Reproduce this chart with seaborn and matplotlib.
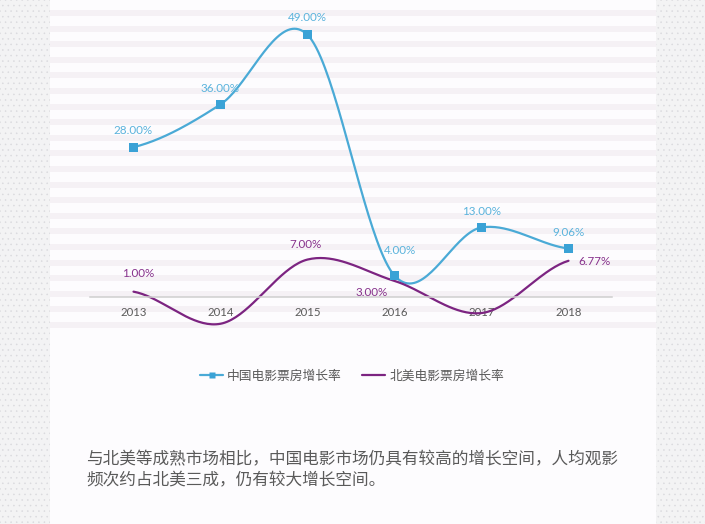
import numpy as np
import pandas as pd
import matplotlib
matplotlib.use("Agg")
import matplotlib.pyplot as plt
import seaborn as sns
from matplotlib.patches import Rectangle
from matplotlib.lines import Line2D

years = ["2013", "2014", "2015", "2016", "2017", "2018"]
china_growth = [28.00, 36.00, 49.00, 4.00, 13.00, 9.06]
na_growth = [1.00, -5.00, 7.00, 3.00, -3.00, 6.77]
china_name = "中国电影票房增长率"
na_name = "北美电影票房增长率"
note = ("与北美等成熟市场相比，中国电影市场仍具有较高的增长空间，人均观影\n"
        "频次约占北美三成，仍有较大增长空间。")

# label offsets in pixels (dx, dy up)
china_off = [(0, 17), (0, 16), (0, 17), (5, 25), (0, 16), (0, 16)]
na_off = [(5, 18), (-4, 21), (-2, 15), (-23, -12), (-3, 9), (26, -1)]

CHINA = "#4aaad6"
CHINA_TXT = "#5ab3dc"
NA = "#7c2481"
NA_TXT = "#87328c"
GREY_TXT = "#5a5a5a"

sns.set_style("white")
plt.rcParams["font.family"] = ["Lato", "Noto Sans CJK SC", "DejaVu Sans"]
plt.rcParams["hatch.linewidth"] = 0.35
CJK = ["Noto Sans CJK SC", "DejaVu Sans"]


def smooth(y, n=40):
    # catmull-rom style curve through the points (like office "smoothed line")
    y = np.asarray(y, dtype=float)
    x = np.arange(len(y), dtype=float)
    m = np.empty_like(y)
    m[1:-1] = (y[2:] - y[:-2]) / 2
    m[0] = (y[1] - y[0]) / 2
    m[-1] = (y[-1] - y[-2]) / 2
    xs, ys = [], []
    for i in range(len(y) - 1):
        t = np.linspace(0, 1, n, endpoint=(i == len(y) - 2))
        h00 = 2 * t**3 - 3 * t**2 + 1
        h10 = t**3 - 2 * t**2 + t
        h01 = -2 * t**3 + 3 * t**2
        h11 = t**3 - t**2
        xs.append(x[i] + t)
        ys.append(h00 * y[i] + h10 * m[i] + h01 * y[i + 1] + h11 * m[i + 1])
    return np.concatenate(xs), np.concatenate(ys)


fig = plt.figure(figsize=(7.05, 5.24), dpi=100)
fig.patch.set_facecolor("#fdfcfe")

# background: speckled side bands + striped panel
bg = fig.add_axes([0, 0, 1, 1])
bg.set_xlim(0, 705)
bg.set_ylim(524, 0)
bg.axis("off")
for x0, w in [(0, 50), (656, 49)]:
    bg.add_patch(Rectangle((x0, 0), w, 524, facecolor="#f3f3f4",
                           edgecolor="#d9d9dd", hatch="...", linewidth=0))
bg.add_patch(Rectangle((50, 0), 606, 524, facecolor="#fdfcfe", linewidth=0))
for k in range(21):
    y0 = 10 + 15.6 * k
    bg.add_patch(Rectangle((50, y0), 606, 6, facecolor="#f5f1f5", linewidth=0))

# main chart
ppv = 5.35  # pixels per percentage point
ax = fig.add_axes([90 / 705, (524 - 297) / 524, 522 / 705, 297 / 524])
ax.patch.set_alpha(0)
ax.set_xlim(-0.5, 5.5)
ax.set_ylim(0, 297 / ppv)

cx, cy = smooth(china_growth)
nx, ny = smooth(na_growth)
curves = pd.DataFrame({"x": np.concatenate([cx, nx]),
                       "y": np.concatenate([cy, ny]),
                       "s": [china_name] * len(cx) + [na_name] * len(nx)})
sns.lineplot(data=curves, x="x", y="y", hue="s", palette=[CHINA, NA],
             linewidth=1.6, sort=False, estimator=None, legend=False,
             ax=ax, clip_on=False)
pts = pd.DataFrame({"x": range(len(years)), "y": china_growth})
sns.scatterplot(data=pts, x="x", y="y", marker="s", s=42, color="#3aa2d6",
                edgecolor="none", ax=ax, clip_on=False, zorder=5)

for i, v in enumerate(china_growth):
    dx, dy = china_off[i]
    ax.annotate(f"{v:.2f}%", (i, v), xytext=(dx * 0.72, dy * 0.72),
                textcoords="offset points", ha="center", va="center",
                fontsize=8.4, color=CHINA_TXT)
for i, v in enumerate(na_growth):
    dx, dy = na_off[i]
    ax.annotate(f"{v:.2f}%", (i, v), xytext=(dx * 0.72, dy * 0.72),
                textcoords="offset points", ha="center", va="center",
                fontsize=8.4, color=NA_TXT)

sns.despine(ax=ax, left=True, top=True, right=True)
ax.spines["bottom"].set_color("#cfcfcf")
ax.spines["bottom"].set_linewidth(1.1)
ax.set_xticks(range(len(years)))
ax.set_xticklabels(years, fontsize=8.2, color=GREY_TXT)
ax.tick_params(axis="x", length=0, pad=7)
ax.set_yticks([])
ax.set_xlabel("")
ax.set_ylabel("")

handles = [Line2D([], [], color=CHINA, lw=1.6, marker="s", markersize=5,
                  markerfacecolor="#3aa2d6", markeredgecolor="none"),
           Line2D([], [], color=NA, lw=1.6)]
leg = fig.legend(handles, [china_name, na_name], loc="center",
                 bbox_to_anchor=(352 / 705, 1 - 376 / 524), ncol=2,
                 frameon=False, handlelength=1.8, handletextpad=0.3,
                 columnspacing=1.6, prop={"family": CJK, "size": 9.2})
for t in leg.get_texts():
    t.set_color(GREY_TXT)

fig.text(86 / 705, 1 - 451 / 524, note, ha="left", va="top",
         fontsize=12, color=GREY_TXT, family=CJK, linespacing=1.35)

fig.savefig("out.png", dpi=100, facecolor=fig.get_facecolor())
